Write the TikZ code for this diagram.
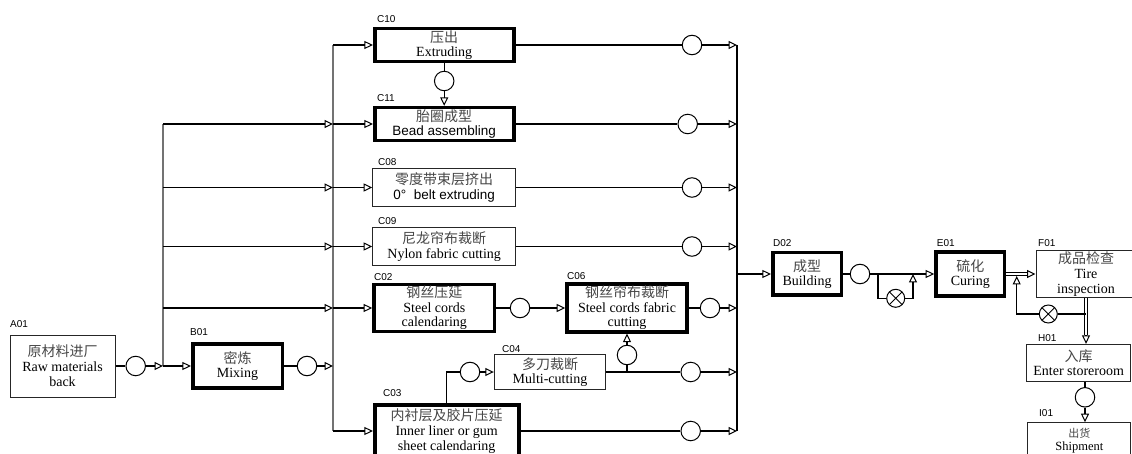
\documentclass[tikz,border=0pt]{standalone}
\usepackage{fontspec}
\setmainfont{Liberation Serif}
\setsansfont{Liberation Sans}
\newfontfamily\cjk{Noto Sans CJK SC}
\usetikzlibrary{arrows.meta,calc}
\newcommand\zhtext[1]{{\cjk\color{black!72}#1}}
\begin{document}
\begin{tikzpicture}[x=1pt,y=-1pt,
  box/.style={draw=black!85,line width=1pt,rectangle,inner sep=0pt,align=center,fill=white,
    font=\fontsize{14}{14.6}\selectfont},
  tbox/.style={box,draw=black,line width=3.6pt},
  lbl/.style={font=\sffamily\fontsize{10}{10}\selectfont,inner sep=0pt,anchor=west},
  circ/.style={circle,draw,line width=1pt,minimum size=19.5pt,inner sep=0pt,fill=white},
  ox/.style={circ,minimum size=18pt,path picture={\draw[line width=0.9pt]
     (path picture bounding box.north west)--(path picture bounding box.south east)
     (path picture bounding box.north east)--(path picture bounding box.south west);}},
  ln/.style={line width=1.3pt},
  arr/.style={ln,-{Triangle[open,length=8.5pt,width=8pt,line width=1pt]}},
  vline/.style={line width=1.4pt,black!55},
  dbl/.style={double=white,double distance=1.8pt,line width=0.8pt},
]
\clip (0,0) rectangle (1132,454);
\fill[white] (0,0) rectangle (1132,454);

% ---------- boxes ----------
\node[box,minimum width=105pt,minimum height=62pt,font=\fontsize{14}{15}\selectfont] (A01) at (62.5,366) {\zhtext{原材料进厂}\\Raw materials\\back};
\node[tbox,minimum width=89.6pt,minimum height=44pt] (B01) at (237.5,366) {\zhtext{密炼}\\Mixing};
\node[tbox,minimum width=139pt,minimum height=33.3pt] (C10) at (444.2,45) {\zhtext{压出}\\Extruding};
\node[tbox,minimum width=139pt,minimum height=32.7pt] (C11) at (444.2,124) {\zhtext{胎圈成型}\\{\sffamily\fontsize{13.5}{15}\selectfont Bead assembling}};
\node[box,minimum width=143pt,minimum height=38.4pt] (C08) at (444.2,187.5) {\zhtext{零度带束层挤出}\\{\sffamily\fontsize{13.5}{15}\selectfont 0°\ \ belt extruding}};
\node[box,minimum width=143pt,minimum height=38pt] (C09) at (444.2,246.5) {\zhtext{尼龙帘布裁断}\\Nylon fabric cutting};
\node[tbox,minimum width=120.7pt,minimum height=46.6pt] (C02) at (434.3,308) {\zhtext{钢丝压延}\\Steel cords\\calendaring};
\node[tbox,minimum width=120pt,minimum height=47.6pt] (C06) at (627,308) {\zhtext{钢丝帘布裁断}\\Steel cords fabric\\cutting};
\node[box,minimum width=111.4pt,minimum height=34.7pt] (C04) at (550,372) {\zhtext{多刀裁断}\\Multi-cutting};
\node[tbox,minimum width=144pt,minimum height=52pt] (C03) at (446.7,431) {\zhtext{内衬层及胶片压延}\\Inner liner or gum\\sheet calendaring};
\node[tbox,minimum width=68.6pt,minimum height=42.6pt] (D02) at (807,274) {\zhtext{成型}\\Building};
\node[tbox,minimum width=68.7pt,minimum height=43.6pt] (E01) at (970.3,274) {\zhtext{硫化}\\Curing};
\node[box,minimum width=100pt,minimum height=47.4pt] (F01) at (1086,274) {\zhtext{成品检查}\\Tire\\inspection};
\node[box,minimum width=104pt,minimum height=36.7pt] (H01) at (1078.7,362.7) {\zhtext{入库}\\Enter storeroom};
\node[box,minimum width=102.7pt,minimum height=36pt,font=\fontsize{12.5}{13}\selectfont] (I01) at (1079.3,440.7) {{\fontsize{11}{13}\selectfont\zhtext{出货}}\\Shipment};

% ---------- labels ----------
\node[lbl] (lA01) at (10,324) {A01};
\node[lbl] (lB01) at (190,332) {B01};
\node[lbl] (lC10) at (377,19) {C10};
\node[lbl] (lC11) at (377,97.7) {C11};
\node[lbl] (lC08) at (378,161.7) {C08};
\node[lbl] (lC09) at (378,220.7) {C09};
\node[lbl] (lC02) at (374,276.7) {C02};
\node[lbl] (lC06) at (567,276) {C06};
\node[lbl] (lC04) at (502,348.7) {C04};
\node[lbl] (lC03) at (383,393) {C03};
\node[lbl] (lD02) at (773,242.7) {D02};
\node[lbl] (lE01) at (936.7,243) {E01};
\node[lbl] (lF01) at (1038,242.7) {F01};
\node[lbl] (lH01) at (1038,338) {H01};
\node[lbl] (lI01) at (1039,413) {I01};

% ---------- circles ----------
\node[circ] (cA) at (135.7,366) {};
\node[circ] (cB) at (307,366) {};
\node[circ] (c10) at (692,45) {};
\node[circ] (c1011) at (444.2,81) {};
\node[circ] (c11) at (687.7,124) {};
\node[circ] (c08) at (692,187.5) {};
\node[circ] (c09) at (692,246.5) {};
\node[circ] (c26) at (520,308) {};
\node[circ] (c06) at (710,308) {};
\node[circ] (c46) at (627,355) {};
\node[circ] (c34) at (470,372) {};
\node[circ] (c04) at (690.7,372) {};
\node[circ] (c03) at (690.7,431) {};
\node[circ] (cD) at (860,274) {};
\node[ox] (oxD) at (895.7,298.3) {};
\node[ox] (oxF) at (1048.3,314) {};
\node[circ] (cH) at (1085,397.3) {};

% ---------- junction coordinates ----------
\coordinate (L0) at (163,366);
\coordinate (L11) at (163,124);
\coordinate (L08) at (163,187.5);
\coordinate (L09) at (163,246.5);
\coordinate (L02) at (163,308);
\coordinate (M10) at (333,45);
\coordinate (M11) at (333,124);
\coordinate (M08) at (333,187.5);
\coordinate (M09) at (333,246.5);
\coordinate (M02) at (333,308);
\coordinate (MB) at (333,366);
\coordinate (M03) at (333,431);
\coordinate (R10) at (737,45);
\coordinate (R11) at (737,124);
\coordinate (R08) at (737,187.5);
\coordinate (R09) at (737,246.5);
\coordinate (RD) at (737,274);
\coordinate (R06) at (737,308);
\coordinate (R04) at (737,372);
\coordinate (R03) at (737,431);
\coordinate (J4) at (627,372);
\coordinate (b1) at (878,274);
\coordinate (b2) at (913,274);
\coordinate (dF) at (1027,274);
\coordinate (fb0) at (1086,314);
\coordinate (fbU) at (1016.7,276);
\coordinate (dH) at (1086,335);

% ---------- vertical collectors ----------
\draw[vline] (L0) -- (L11);
\draw[vline] (M10) -- (M03);
\draw[line width=1.1pt] (R10) -- (R03);

% ---------- connectors ----------
\draw[ln] (A01) -- (cA);
\draw[arr] (cA) -- (L0);
\draw[arr] (L0) -- (B01);
\draw[ln] (B01) -- (cB);
\draw[arr] (cB) -- (MB);
\foreach \a/\b in {L11/M11,L08/M08,L09/M09,L02/M02} \draw[arr] (\a) -- (\b);
\foreach \a/\b in {M10/C10,M11/C11,M08/C08,M09/C09,M02/C02,M03/C03} \draw[arr] (\a) -- (\b);
\foreach \bx/\c/\r in {C10/c10/R10,C11/c11/R11,C08/c08/R08,C09/c09/R09,C06/c06/R06,C04/c04/R04,C03/c03/R03}
  {\draw[ln] (\bx) -- (\c); \draw[arr] (\c) -- (\r);}
\draw[ln] (C10) -- (c1011);
\draw[arr] (c1011) -- (C11);
\draw[ln] (C02) -- (c26);
\draw[arr] (c26) -- (C06);
\draw[ln] (C03.north) |- (c34);
\draw[arr] (c34) -- (C04);
\draw[ln] (J4) -- (c46);
\draw[arr] (c46) -- (C06);
\draw[arr] (RD) -- (D02);
\draw[ln] (D02) -- (cD);
\draw[arr] (cD) -- (E01);
\draw[ln] (b1) |- (oxD);
\draw[arr] (oxD) -| (b2);
\draw[dbl] (E01) -- (dF);
\draw[arr] (dF) -- (F01);
\draw[dbl] (F01.south) -- (dH);
\draw[arr] (dH) -- (F01.south |- H01.north);
\draw[ln] (fb0) -- (oxF);
\draw[arr] (oxF) -| (fbU);
\draw[ln] (cH |- H01.south) -- (cH);
\draw[arr] (cH) -- (cH |- I01.north);
\end{tikzpicture}
\end{document}
